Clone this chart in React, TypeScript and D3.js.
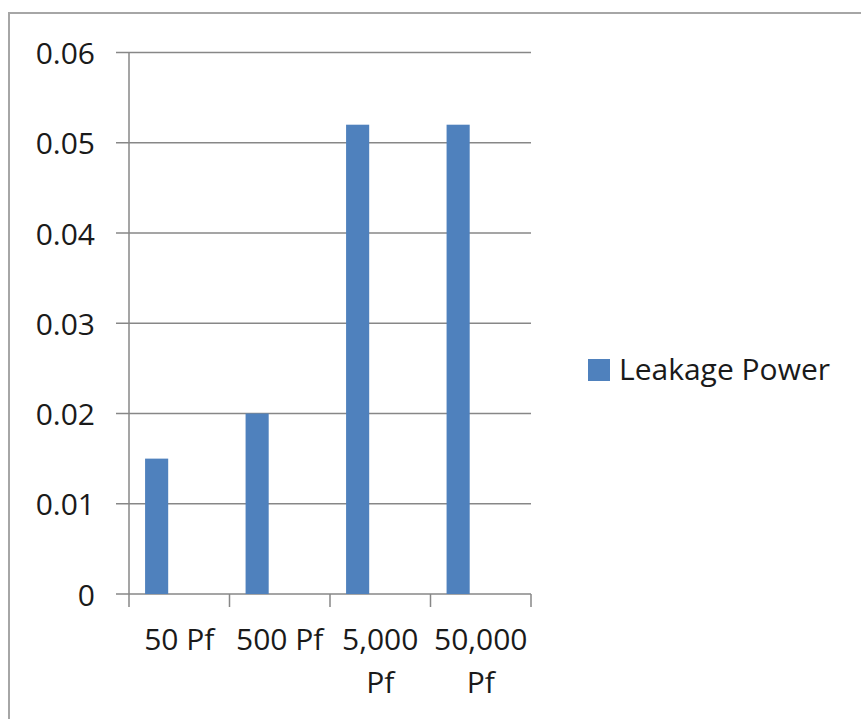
import React from "react";
import * as d3 from "d3";

const categories = ["50 Pf", "500 Pf", "5,000 Pf", "50,000 Pf"];
const categoryLines = [["50 Pf"], ["500 Pf"], ["5,000", "Pf"], ["50,000", "Pf"]];
const leakagePower = [0.015, 0.02, 0.052, 0.052];
const yTicks = [0, 0.01, 0.02, 0.03, 0.04, 0.05, 0.06];
const seriesName = "Leakage Power";

const W = 861;
const H = 719;
const FONT = "'Open Sans', sans-serif";
const TEXT = "#1a1a1a";
const GRID = "#878787";
const BAR = "#4f81bd";
const FS = 30;

export default function App() {
  const x = d3.scaleBand<string>().domain(categories).range([129, 531]);
  const y = d3.scaleLinear().domain([0, 0.06]).range([594, 52.5]);
  const bw = x.bandwidth();
  const barOffset = bw * 0.16;
  const barW = bw * 0.23;

  return (
    <svg
      width={W}
      height={H}
      style={{ position: "absolute", left: 0, top: 0, background: "#fff" }}
      fontFamily={FONT}
    >
      <rect x={0} y={0} width={W} height={H} fill="#fff" />
      <rect x={9} y={13} width={W + 20} height={H + 20} fill="none" stroke="#a6a6a6" strokeWidth={2} />
      {yTicks.map((t) => (
        <g key={t}>
          <line x1={116} x2={531} y1={y(t)} y2={y(t)} stroke={GRID} strokeWidth={1.5} />
          <text
            x={95}
            y={y(t)}
            textAnchor="end"
            dominantBaseline="central"
            fontSize={FS}
            fill={TEXT}
          >
            {t === 0 ? "0" : d3.format(".2f")(t)}
          </text>
        </g>
      ))}
      <line x1={129} x2={129} y1={52.5} y2={607} stroke={GRID} strokeWidth={1.5} />
      {categories.map((c) => (
        <line
          key={"t" + c}
          x1={(x(c) as number) + bw}
          x2={(x(c) as number) + bw}
          y1={594}
          y2={607}
          stroke={GRID}
          strokeWidth={1.5}
        />
      ))}
      {categories.map((c, i) => (
        <rect
          key={"b" + c}
          x={(x(c) as number) + barOffset}
          y={y(leakagePower[i])}
          width={barW}
          height={y(0) - y(leakagePower[i])}
          fill={BAR}
        />
      ))}
      {categories.map((c, i) => (
        <text
          key={"l" + c}
          x={(x(c) as number) + bw / 2}
          y={650}
          textAnchor="middle"
          fontSize={FS}
          fill={TEXT}
        >
          {categoryLines[i].map((ln, j) => (
            <tspan key={j} x={(x(c) as number) + bw / 2} y={650 + j * 43}>
              {ln}
            </tspan>
          ))}
        </text>
      ))}
      <rect x={588} y={359} width={22} height={22} fill={BAR} />
      <text x={619} y={380} fontSize={FS} fill={TEXT}>
        {seriesName}
      </text>
    </svg>
  );
}
